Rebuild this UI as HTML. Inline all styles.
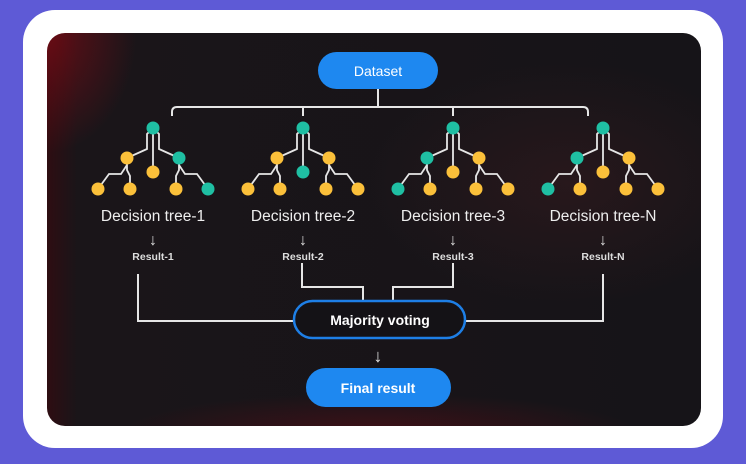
<!DOCTYPE html>
<html><head><style>
html,body{margin:0;padding:0;width:746px;height:464px;overflow:hidden;background:#5e5ad6;font-family:"Liberation Sans",sans-serif;}
.card{position:absolute;left:23px;top:10px;width:700px;height:438px;background:#fff;border-radius:32px;}
.panel{position:absolute;left:47px;top:33px;width:654px;height:393px;border-radius:18px;overflow:hidden;
background:
radial-gradient(ellipse 90px 120px at 0px 0px,rgba(130,10,20,.7),rgba(130,10,20,0) 100%),
radial-gradient(ellipse 260px 40px at 330px 400px,rgba(110,10,20,.45),rgba(110,10,20,0) 100%),
radial-gradient(ellipse 200px 120px at 520px 150px,rgba(60,28,32,.45),rgba(0,0,0,0) 100%),
linear-gradient(90deg,#2e0d12 0px,#1a1519 30px,#161418 100%);}
text{font-weight:bold;}
text.n{font-weight:normal;}
</style></head><body>
<div class="card"></div>
<div class="panel"></div>
<svg width="746" height="464" style="position:absolute;left:0;top:0" font-family="Liberation Sans, sans-serif">
<defs>
<g id="ln" fill="none" stroke="#e6e6e6" stroke-width="1.8">
<path d="M0 128 L-6 134 V149 L-26 158 M0 128 L6 134 V149 L26 158 M0 128 V172 M-26 158 V170 L-23 176 V189 M-26 165 L-32 174 H-44 L-55 189 M26 158 V170 L23 176 V189 M26 165 L32 174 H44 L55 189"/>
</g>
</defs>
<g fill="none" stroke="#e6e6e6" stroke-width="2">
<path d="M378 88 V107"/>
<path d="M172 116 V112 Q172 107 177 107 H583 Q588 107 588 112 V116"/>
<path d="M303 107 V116 M453 107 V116"/>
<path d="M138 274 V321 H293"/>
<path d="M603 274 V321 H466"/>
<path d="M302 263 V287 H363 V300"/>
<path d="M453 263 V287 H393 V300"/>
</g>
<rect x="318" y="52" width="120" height="37" rx="18.5" fill="#1e88f0"/>
<text x="378" y="76" fill="#fff" font-size="14" text-anchor="middle" class="n">Dataset</text>

<g transform="translate(153,0)">
<use href="#ln"/>
<circle cx="0" cy="128" r="6.5" fill="#1fbfa3"/><circle cx="-26" cy="158" r="6.5" fill="#fbc03a"/><circle cx="0" cy="172" r="6.5" fill="#fbc03a"/><circle cx="26" cy="158" r="6.5" fill="#1fbfa3"/>
<circle cx="-55" cy="189" r="6.5" fill="#fbc03a"/><circle cx="-23" cy="189" r="6.5" fill="#fbc03a"/><circle cx="23" cy="189" r="6.5" fill="#fbc03a"/><circle cx="55" cy="189" r="6.5" fill="#1fbfa3"/>
<text x="0" y="221" fill="#eee" font-size="15.5" text-anchor="middle" class="n">Decision tree-1</text>
<text x="0" y="245" fill="#ddd" font-size="16" text-anchor="middle" class="n">↓</text>
<text x="0" y="260" fill="#ddd" font-size="10.5" text-anchor="middle">Result-1</text>
</g>
<g transform="translate(303,0)">
<use href="#ln"/>
<circle cx="0" cy="128" r="6.5" fill="#1fbfa3"/><circle cx="-26" cy="158" r="6.5" fill="#fbc03a"/><circle cx="0" cy="172" r="6.5" fill="#1fbfa3"/><circle cx="26" cy="158" r="6.5" fill="#fbc03a"/>
<circle cx="-55" cy="189" r="6.5" fill="#fbc03a"/><circle cx="-23" cy="189" r="6.5" fill="#fbc03a"/><circle cx="23" cy="189" r="6.5" fill="#fbc03a"/><circle cx="55" cy="189" r="6.5" fill="#fbc03a"/>
<text x="0" y="221" fill="#eee" font-size="15.5" text-anchor="middle" class="n">Decision tree-2</text>
<text x="0" y="245" fill="#ddd" font-size="16" text-anchor="middle" class="n">↓</text>
<text x="0" y="260" fill="#ddd" font-size="10.5" text-anchor="middle">Result-2</text>
</g>
<g transform="translate(453,0)">
<use href="#ln"/>
<circle cx="0" cy="128" r="6.5" fill="#1fbfa3"/><circle cx="-26" cy="158" r="6.5" fill="#1fbfa3"/><circle cx="0" cy="172" r="6.5" fill="#fbc03a"/><circle cx="26" cy="158" r="6.5" fill="#fbc03a"/>
<circle cx="-55" cy="189" r="6.5" fill="#1fbfa3"/><circle cx="-23" cy="189" r="6.5" fill="#fbc03a"/><circle cx="23" cy="189" r="6.5" fill="#fbc03a"/><circle cx="55" cy="189" r="6.5" fill="#fbc03a"/>
<text x="0" y="221" fill="#eee" font-size="15.5" text-anchor="middle" class="n">Decision tree-3</text>
<text x="0" y="245" fill="#ddd" font-size="16" text-anchor="middle" class="n">↓</text>
<text x="0" y="260" fill="#ddd" font-size="10.5" text-anchor="middle">Result-3</text>
</g>
<g transform="translate(603,0)">
<use href="#ln"/>
<circle cx="0" cy="128" r="6.5" fill="#1fbfa3"/><circle cx="-26" cy="158" r="6.5" fill="#1fbfa3"/><circle cx="0" cy="172" r="6.5" fill="#fbc03a"/><circle cx="26" cy="158" r="6.5" fill="#fbc03a"/>
<circle cx="-55" cy="189" r="6.5" fill="#1fbfa3"/><circle cx="-23" cy="189" r="6.5" fill="#fbc03a"/><circle cx="23" cy="189" r="6.5" fill="#fbc03a"/><circle cx="55" cy="189" r="6.5" fill="#fbc03a"/>
<text x="0" y="221" fill="#eee" font-size="15.5" text-anchor="middle" class="n">Decision tree-N</text>
<text x="0" y="245" fill="#ddd" font-size="16" text-anchor="middle" class="n">↓</text>
<text x="0" y="260" fill="#ddd" font-size="10.5" text-anchor="middle">Result-N</text>
</g>

<rect x="294" y="301" width="171" height="37" rx="18.5" fill="#141216" stroke="#1e7fe6" stroke-width="2.5"/>
<text x="380" y="325" fill="#fff" font-size="14" text-anchor="middle">Majority voting</text>
<text x="378" y="362" fill="#e6e6e6" font-size="18" text-anchor="middle" class="n">↓</text>
<rect x="306" y="368" width="145" height="39" rx="19.5" fill="#1e88f0"/>
<text x="378" y="393" fill="#fff" font-size="14" text-anchor="middle">Final result</text>
</svg>
</body></html>
